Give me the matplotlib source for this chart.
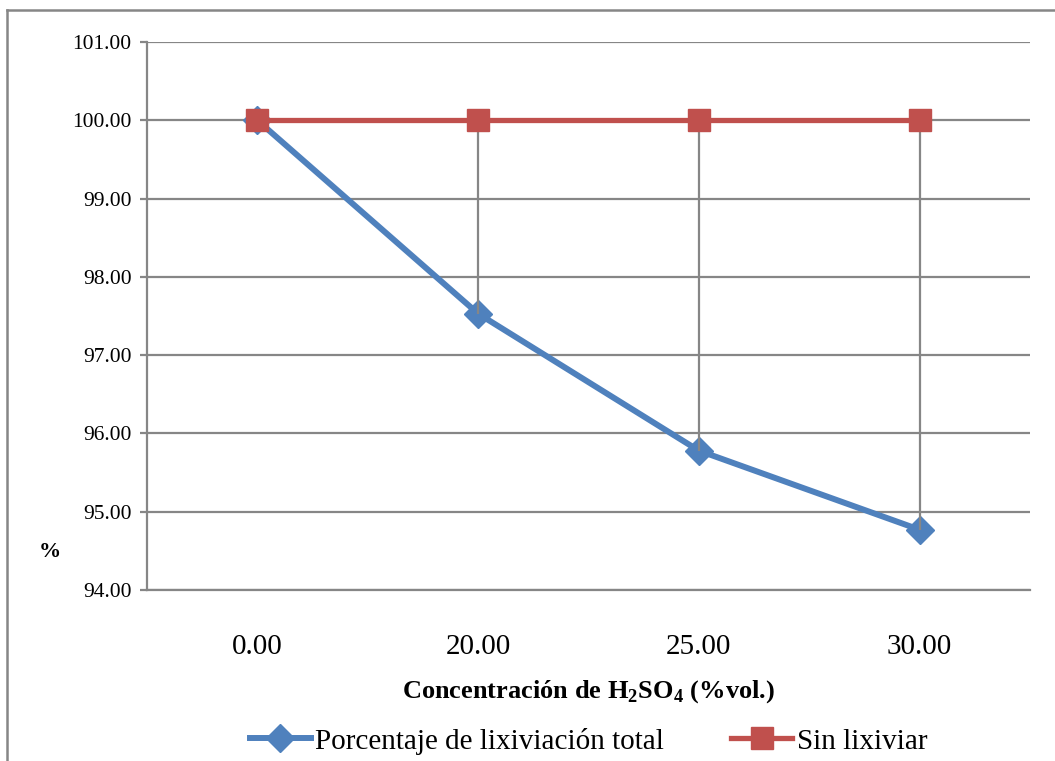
import matplotlib.pyplot as plt
from matplotlib.lines import Line2D

# Data
categories = ["0.00", "20.00", "25.00", "30.00"]
lixiviacion = [100.00, 97.53, 95.78, 94.77]
sin_lixiviar = [100.00, 100.00, 100.00, 100.00]
y_ticks = [94, 95, 96, 97, 98, 99, 100, 101]

plt.rcParams['font.family'] = ['Liberation Serif', 'DejaVu Serif']
plt.rcParams['mathtext.fontset'] = 'custom'
plt.rcParams['mathtext.rm'] = 'Liberation Serif'
plt.rcParams['mathtext.bf'] = 'Liberation Serif:bold'

fig = plt.figure(figsize=(10.55, 7.61), dpi=100)
ax = fig.add_axes([147 / 1055, 1 - 590 / 761, 883 / 1055, 548 / 761])

x = list(range(len(categories)))
blue = "#4F81BD"
red = "#C0504D"
grey = "#868686"

# Series
ax.plot(x, lixiviacion, color=blue, linewidth=4.3, marker="D", markersize=14,
        label="Porcentaje de lixiviación total", zorder=3)
# High-low lines
ax.vlines(x, lixiviacion, sin_lixiviar, color=grey, linewidth=1.6, zorder=4)
ax.plot(x, sin_lixiviar, color=red, linewidth=3.8, marker="s", markersize=16,
        label="Sin lixiviar", zorder=5, clip_on=False)

# Axes
ax.set_xlim(-0.5, len(categories) - 0.5)
ax.set_ylim(94, 101)
ax.set_yticks(y_ticks)
ax.set_yticklabels([f"{v:.2f}" for v in y_ticks], fontsize=15.5)
ax.set_xticks(x)
ax.set_xticklabels(categories, fontsize=21)
ax.tick_params(axis="x", length=0, pad=32)
ax.tick_params(axis="y", length=5, width=1.6, color=grey, pad=6)
ax.grid(axis="y", color=grey, linewidth=1.6)
ax.set_axisbelow(True)
for side in ["top", "right"]:
    ax.spines[side].set_visible(False)
ax.spines["left"].set_color(grey)
ax.spines["left"].set_linewidth(1.6)
ax.spines["bottom"].set_color(grey)
ax.spines["bottom"].set_linewidth(1.6)

ax.set_xlabel(r"Concentración de H$_\mathbf{2}$SO$_\mathbf{4}$ (%vol.)",
              fontsize=19, fontweight="bold", labelpad=13)
fig.text(50 / 1055, 1 - 552 / 761, "%", fontsize=16, fontweight="bold",
         ha="center", va="center")

ax.legend(loc="upper center", bbox_to_anchor=(0.5, -0.23), ncol=2, frameon=False,
          fontsize=21, handlelength=2.1, handletextpad=0.15, columnspacing=2.3,
          borderaxespad=0)

# Outer chart border
fig.add_artist(Line2D([7 / 1055, 7 / 1055], [0, 1 - 10 / 761], transform=fig.transFigure,
                      color=grey, linewidth=1.8))
fig.add_artist(Line2D([7 / 1055, 1], [1 - 10 / 761, 1 - 10 / 761], transform=fig.transFigure,
                      color=grey, linewidth=1.8))

fig.savefig("out.png", dpi=100)
